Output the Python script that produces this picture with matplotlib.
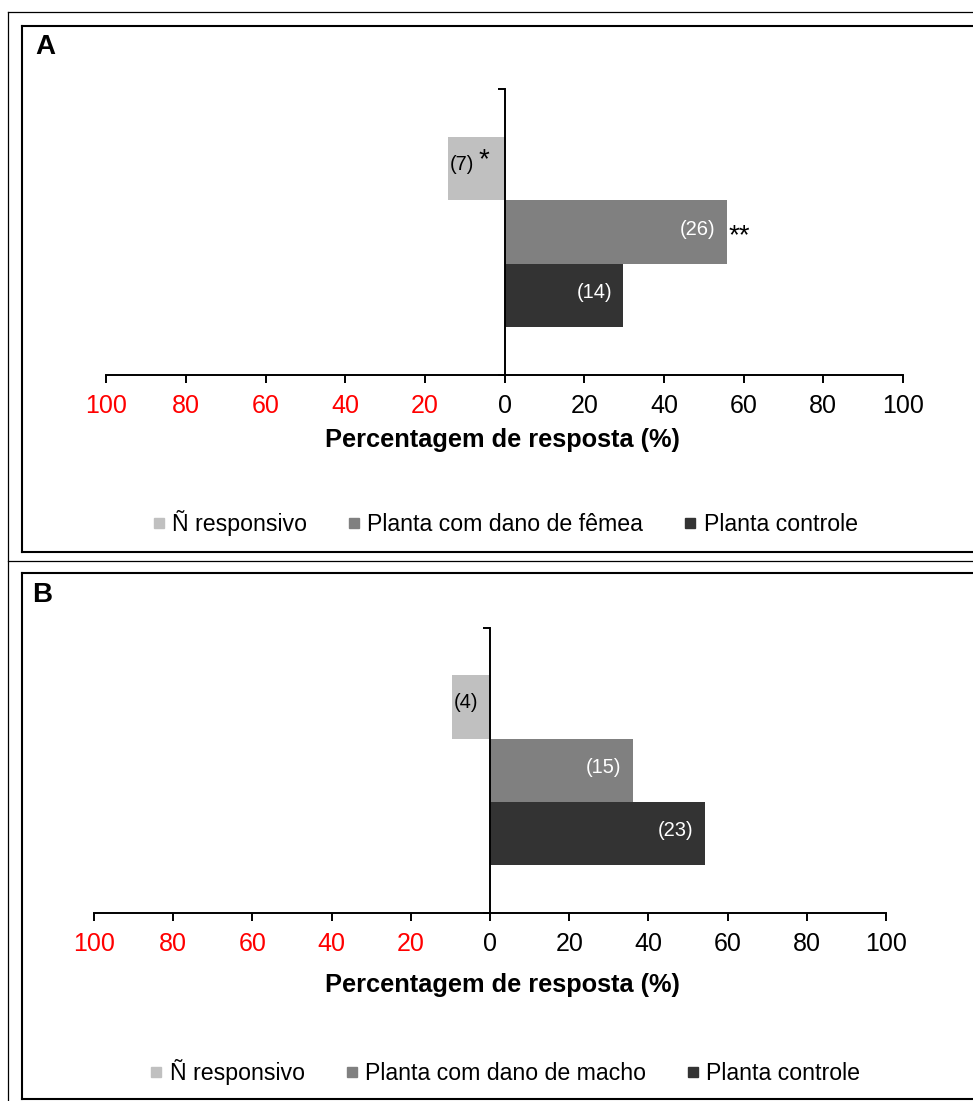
import matplotlib
matplotlib.use("Agg")
import matplotlib.pyplot as plt
from matplotlib.lines import Line2D

plt.rcParams["font.family"] = ["Liberation Sans", "DejaVu Sans"]

W, H = 973, 1101

# response categories (top to bottom) and their fills
cats_a = ["Ñ responsivo", "Planta com dano de fêmea", "Planta controle"]
cats_b = ["Ñ responsivo", "Planta com dano de macho", "Planta controle"]
colors = ["#c0c0c0", "#808080", "#333333"]
label_colors = ["black", "white", "white"]

# percentage of response; non-responsive goes to the left of zero
pct_a = [14.2, 55.8, 29.8]
pct_b = [9.7, 36.0, 54.2]
n_a = [7, 26, 14]
n_b = [4, 15, 23]
sig_a = ["*", "**", ""]
sig_b = ["", "", ""]

xticks = [-100, -80, -60, -40, -20, 0, 20, 40, 60, 80, 100]


def fx(x):
    return x / W


def fy(y):
    return 1 - y / H


def draw_panel(fig, rect, cats, pct, counts, sig):
    left, top, right, bottom = rect
    ax = fig.add_axes([fx(left), fy(bottom), fx(right) - fx(left), fy(top) - fy(bottom)])
    ypos = [3.25, 2.25, 1.25]
    vals = [-pct[0], pct[1], pct[2]]
    ax.barh(ypos, vals, height=1.0, color=colors, zorder=1)

    for y, v, n, s, lc in zip(ypos, vals, counts, sig, label_colors):
        if v < 0:
            ax.annotate(f"({n})", (v, y), xytext=(1.5, 3), textcoords="offset points",
                        ha="left", va="center", fontsize=14.5, color=lc)
            if s:
                ax.annotate(s, (v, y), xytext=(25.5, 6), textcoords="offset points",
                            ha="center", va="center", fontsize=20, color="black")
        else:
            ax.annotate(f"({n})", (v, y), xytext=(-8, 2), textcoords="offset points",
                        ha="right", va="center", fontsize=14.5, color=lc)
            if s:
                ax.annotate(s, (v, y), xytext=(1, -3), textcoords="offset points",
                            ha="left", va="center", fontsize=20, color="black")

    ax.set_xlim(-100, 100)
    ax.set_ylim(0, 4.5)
    ax.set_xticks(xticks)
    ax.set_xticklabels([str(abs(t)) for t in xticks])
    for t, lab in zip(xticks, ax.get_xticklabels()):
        lab.set_color("red" if t < 0 else "black")
    ax.set_yticks([0, 4.5])
    ax.set_yticklabels([])
    ax.tick_params(axis="x", direction="out", length=5.8, width=1.4, labelsize=18, pad=8)
    ax.tick_params(axis="y", direction="out", length=5, width=1.4)
    ax.spines["left"].set_position(("data", 0))
    for side in ("left", "bottom"):
        ax.spines[side].set_linewidth(1.4)
    ax.spines["top"].set_visible(False)
    ax.spines["right"].set_visible(False)
    ax.patch.set_visible(False)
    return ax


fig = plt.figure(figsize=(W / 100, H / 100), dpi=100)

draw_panel(fig, (106.3, 89, 903, 375), cats_a, pct_a, n_a, sig_a)
draw_panel(fig, (94, 627.7, 886, 913), cats_b, pct_b, n_b, sig_b)

for y, ttl in ((440, "Percentagem de resposta (%)"), (985, "Percentagem de resposta (%)")):
    fig.text(fx(502), fy(y), ttl, ha="center", va="center", fontsize=18.3, fontweight="bold")

fig.text(fx(35), fy(47), "A", ha="left", va="center", fontsize=20, fontweight="bold")
fig.text(fx(32), fy(595), "B", ha="left", va="center", fontsize=20, fontweight="bold")

for cats, y in ((cats_a, 523), (cats_b, 1072)):
    handles = [Line2D([], [], marker="s", linestyle="none", markersize=7,
                      color=c) for c in colors]
    fig.legend(handles, cats, loc="center", bbox_to_anchor=(fx(505), fy(y)),
               ncol=3, frameon=False, fontsize=16.7, handlelength=0.55,
               handletextpad=0.3, columnspacing=1.75)

# table frame and panel boxes
thin = dict(color="black", linewidth=0.9)
thick = dict(color="black", linewidth=1.5)
fig.add_artist(Line2D([fx(8), fx(8)], [fy(12), fy(H)], **thin))
fig.add_artist(Line2D([fx(8), 1], [fy(12), fy(12)], **thin))
fig.add_artist(Line2D([fx(8), 1], [fy(561), fy(561)], **thin))
for top, bottom in ((26, 552), (573, 1099)):
    fig.add_artist(Line2D([fx(22), fx(22)], [fy(top), fy(bottom)], **thick))
    fig.add_artist(Line2D([fx(22), 1], [fy(top), fy(top)], **thick))
    fig.add_artist(Line2D([fx(22), 1], [fy(bottom), fy(bottom)], **thick))

fig.savefig("out.png", dpi=100)
